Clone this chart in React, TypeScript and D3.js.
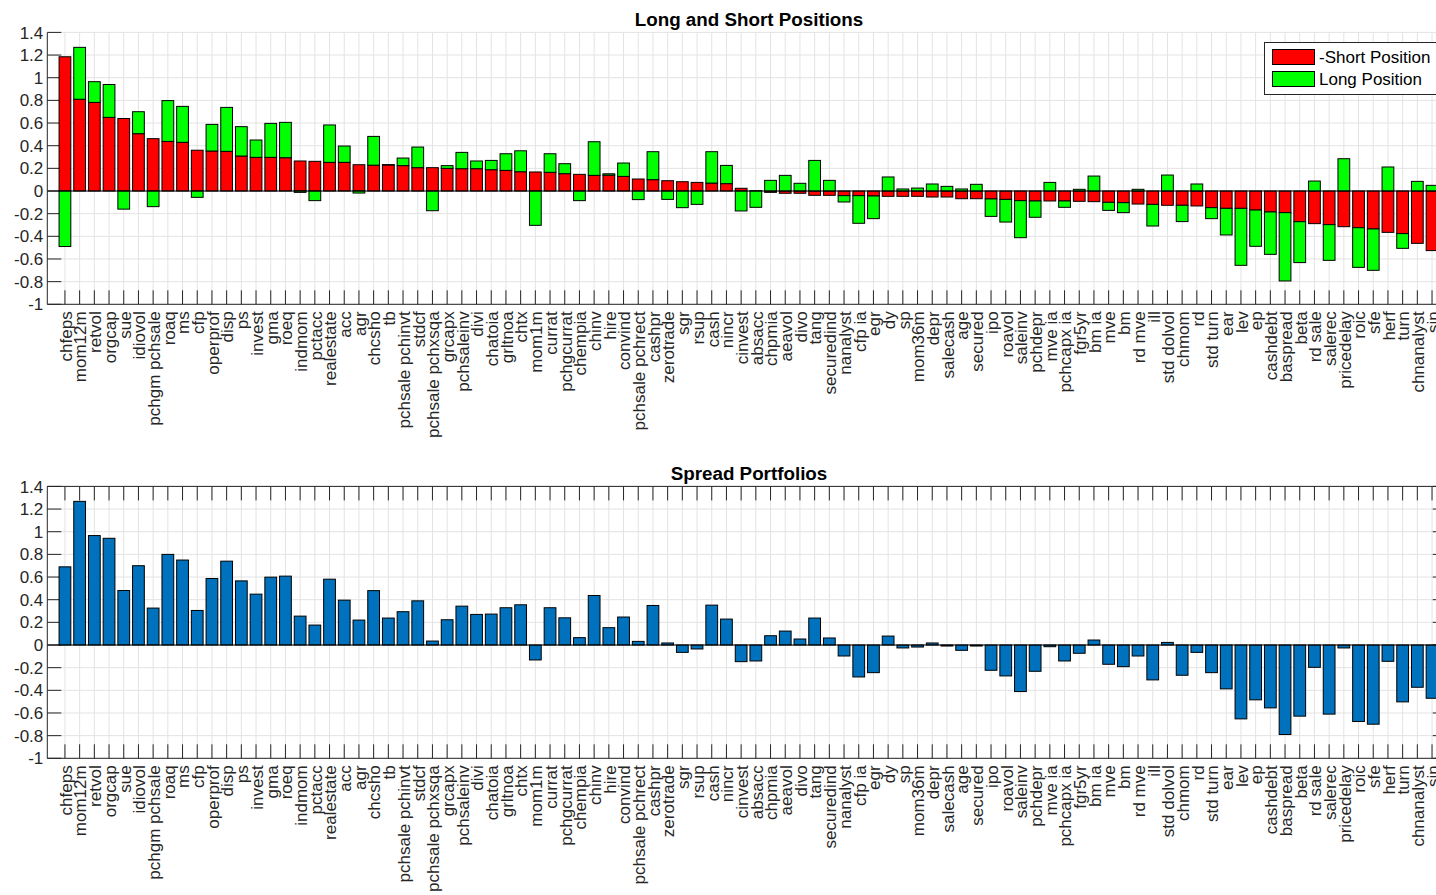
import React from "react";
import * as d3 from "d3";

// characteristic names, in the order shown on both x axes
const categories = [
  "chfeps", "mom12m", "retvol", "orgcap", "sue", "idiovol", "pchgm pchsale", "roaq", "ms", "cfp",
  "operprof", "disp", "ps", "invest", "gma", "roeq", "indmom", "pctacc", "realestate", "acc",
  "agr", "chcsho", "tb", "pchsale pchinvt", "stdcf", "pchsale pchxsqa", "grcapx", "pchsaleinv", "divi", "chatoia",
  "grltnoa", "chtx", "mom1m", "currat", "pchgcurrat", "chempia", "chinv", "hire", "convind", "pchsale pchrect",
  "cashpr", "zerotrade", "sgr", "rsup", "cash", "nincr", "cinvest", "absacc", "chpmia", "aeavol",
  "divo", "tang", "securedind", "nanalyst", "cfp ia", "egr", "dy", "sp", "mom36m", "depr",
  "salecash", "age", "secured", "ipo", "roavol", "saleinv", "pchdepr", "mve ia", "pchcapx ia", "fgr5yr",
  "bm ia", "mve", "bm", "rd mve", "ill", "std dolvol", "chmom", "rd", "std turn", "ear",
  "lev", "ep", "cashdebt", "baspread", "beta", "rd sale", "salerec", "pricedelay", "roic", "sfe",
  "herf", "turn", "chnanalyst", "sin",
];

// -Short Position (red)
const shortPos = [
  1.185, 0.81, 0.782, 0.65, 0.64, 0.506, 0.462, 0.438, 0.43, 0.36,
  0.353, 0.35, 0.309, 0.297, 0.297, 0.294, 0.265, 0.262, 0.253, 0.253,
  0.232, 0.228, 0.23, 0.224, 0.206, 0.206, 0.2, 0.197, 0.197, 0.188,
  0.182, 0.17, 0.168, 0.165, 0.153, 0.147, 0.138, 0.14, 0.129, 0.106,
  0.1, 0.091, 0.082, 0.076, 0.07, 0.065, 0.024, 0.002, -0.012, -0.02,
  -0.02, -0.038, -0.038, -0.041, -0.041, -0.044, -0.047, -0.047, -0.047, -0.053,
  -0.053, -0.068, -0.068, -0.07, -0.074, -0.085, -0.088, -0.088, -0.088, -0.091,
  -0.094, -0.1, -0.103, -0.115, -0.118, -0.126, -0.126, -0.132, -0.147, -0.153,
  -0.153, -0.168, -0.185, -0.191, -0.271, -0.288, -0.297, -0.315, -0.324, -0.335,
  -0.365, -0.376, -0.462, -0.526,
];

// Long Position (green)
const longPos = [
  -0.49, 0.458, 0.183, 0.29, -0.16, 0.194, -0.138, 0.36, 0.317, -0.056,
  0.235, 0.388, 0.259, 0.153, 0.3, 0.312, -0.012, -0.085, 0.33, 0.144,
  -0.018, 0.254, 0.003, 0.067, 0.182, -0.174, 0.024, 0.144, 0.068, 0.082,
  0.147, 0.185, -0.303, 0.164, 0.088, -0.085, 0.297, 0.012, 0.118, -0.076,
  0.247, -0.074, -0.147, -0.118, 0.277, 0.161, -0.176, -0.144, 0.094, 0.138,
  0.068, 0.27, 0.094, -0.056, -0.244, -0.2, 0.124, 0.018, 0.026, 0.062,
  0.041, 0.018, 0.059, -0.154, -0.2, -0.327, -0.144, 0.076, -0.056, 0.015,
  0.132, -0.071, -0.088, 0.015, -0.191, 0.141, -0.144, 0.062, -0.097, -0.235,
  -0.503, -0.32, -0.374, -0.603, -0.361, 0.088, -0.315, 0.285, -0.35, -0.365,
  0.212, -0.13, 0.085, 0.05,
];

// spread portfolios (blue)
const spread = [
  0.69, 1.268, 0.966, 0.942, 0.481, 0.7, 0.326, 0.8, 0.75, 0.305,
  0.587, 0.74, 0.566, 0.449, 0.599, 0.608, 0.255, 0.176, 0.581, 0.396,
  0.22, 0.48, 0.238, 0.294, 0.39, 0.035, 0.223, 0.343, 0.27, 0.273,
  0.329, 0.355, -0.132, 0.329, 0.24, 0.065, 0.437, 0.153, 0.247, 0.032,
  0.349, 0.018, -0.065, -0.035, 0.352, 0.229, -0.147, -0.141, 0.082, 0.123,
  0.053, 0.238, 0.062, -0.097, -0.282, -0.244, 0.079, -0.026, -0.018, 0.018,
  -0.009, -0.047, -0.009, -0.223, -0.273, -0.411, -0.232, -0.015, -0.141, -0.073,
  0.044, -0.17, -0.191, -0.097, -0.308, 0.023, -0.267, -0.065, -0.244, -0.387,
  -0.652, -0.484, -0.555, -0.79, -0.628, -0.197, -0.61, -0.026, -0.675, -0.699,
  -0.144, -0.502, -0.373, -0.47,
];

const legendLabels = ["-Short Position", "Long Position"];

const FONT = "'Liberation Sans', Arial, Helvetica, sans-serif";
const AX = "#262626";
const GRID = "#e3e3e3";
const TICK_LEN = 14;

const x = d3.scaleLinear().domain([-0.2, 95]).range([47.3, 47.3 + 95.2 * 14.7]);
const barW = x(0.8) - x(0);

function fmt(v) {
  const r = Math.round(v * 10) / 10;
  return r === 0 ? "0" : String(r);
}

function Axes({ y, title, box, children }) {
  const [x0, x1] = x.range();
  const [yb, yt] = y.range();
  const ticks = y.ticks(12);
  const idx = d3.range(1, categories.length + 1);
  return (
    <g>
      {/* grid */}
      {idx.map(i => (
        <line key={"gx" + i} x1={x(i)} x2={x(i)} y1={yt} y2={yb} stroke={GRID} />
      ))}
      {ticks.map(t => (
        <line key={"gy" + t} x1={x0} x2={x1} y1={y(t)} y2={y(t)} stroke={GRID} />
      ))}
      {/* ticks */}
      {idx.map(i => (
        <g key={"tx" + i}>
          <line x1={x(i)} x2={x(i)} y1={yb} y2={yb - TICK_LEN} stroke={AX} />
          {box && <line x1={x(i)} x2={x(i)} y1={yt} y2={yt + TICK_LEN} stroke={AX} />}
        </g>
      ))}
      {ticks.map(t => (
        <g key={"ty" + t}>
          <line x1={x0} x2={x0 + TICK_LEN} y1={y(t)} y2={y(t)} stroke={AX} />
          {box && <line x1={x1} x2={x1 - TICK_LEN} y1={y(t)} y2={y(t)} stroke={AX} />}
          <text x={x0 - 4} y={y(t)} dy="0.36em" textAnchor="end" fontSize={17} fill={AX}>
            {fmt(t)}
          </text>
        </g>
      ))}
      {children}
      <line x1={x0} x2={x1} y1={y(0)} y2={y(0)} stroke="#000" />
      {/* axis lines */}
      <line x1={x0} x2={x0} y1={yt} y2={yb} stroke={AX} />
      <line x1={x0} x2={x1} y1={yb} y2={yb} stroke={AX} />
      {box && <line x1={x0} x2={x1} y1={yt} y2={yt} stroke={AX} />}
      {box && <line x1={x1} x2={x1} y1={yt} y2={yb} stroke={AX} />}
      {/* category labels */}
      {categories.map((c, i) => (
        <text
          key={"lab" + i}
          transform={`translate(${x(i + 1) + 1},${yb + 7}) rotate(-90)`}
          dy="0.34em"
          textAnchor="end"
          fontSize={17}
          fill={AX}
        >
          {c}
        </text>
      ))}
      <text x={(x0 + x1) / 2 + 2} y={yt - 6} textAnchor="middle" fontSize={18.8} fontWeight="bold" fill="#000">
        {title}
      </text>
    </g>
  );
}

export default function App() {
  const yTop = d3.scaleLinear().domain([-1, 1.4]).range([304.3, 32.4]);
  const yBot = d3.scaleLinear().domain([-1, 1.4]).range([758.3, 486.4]);

  const rows = categories.map((c, i) => ({ name: c, short: shortPos[i], long: longPos[i] }));
  const series = d3.stack().keys(["short", "long"]).offset(d3.stackOffsetDiverging)(rows);
  const colors = ["#ff0000", "#00ff00"];

  return (
    <div style={{ position: "absolute", left: 0, top: 0 }}>
      <svg width={1436} height={895} style={{ display: "block", fontFamily: FONT, background: "#fff" }}>
        <rect width={1436} height={895} fill="#fff" />
        <Axes y={yTop} title="Long and Short Positions" box={false}>
          {series.map((s, k) => (
            <g key={s.key}>
              {s.map((d, i) => (
                <rect
                  key={i}
                  x={x(i + 1) - barW / 2}
                  y={yTop(Math.max(d[0], d[1]))}
                  width={barW}
                  height={Math.abs(yTop(d[0]) - yTop(d[1]))}
                  fill={colors[k]}
                  stroke="#000"
                  strokeWidth={1}
                />
              ))}
            </g>
          ))}
          {/* legend */}
          <g>
            <rect x={1264.5} y={42.5} width={190} height={52} fill="#fff" stroke={AX} strokeWidth={1} />
            {legendLabels.map((l, k) => (
              <g key={l}>
                <rect x={1272.5} y={49.5 + k * 22} width={42} height={15} fill={colors[k]} stroke="#000" />
                <text x={1319} y={57 + k * 22} dy="0.36em" fontSize={17} fill="#000">{l}</text>
              </g>
            ))}
          </g>
        </Axes>
        <Axes y={yBot} title="Spread Portfolios" box={true}>
          {spread.map((v, i) => (
            <rect
              key={i}
              x={x(i + 1) - barW / 2}
              y={yBot(Math.max(0, v))}
              width={barW}
              height={Math.abs(yBot(v) - yBot(0))}
              fill="#0072bd"
              stroke="#000"
              strokeWidth={1}
            />
          ))}
        </Axes>
      </svg>
    </div>
  );
}
